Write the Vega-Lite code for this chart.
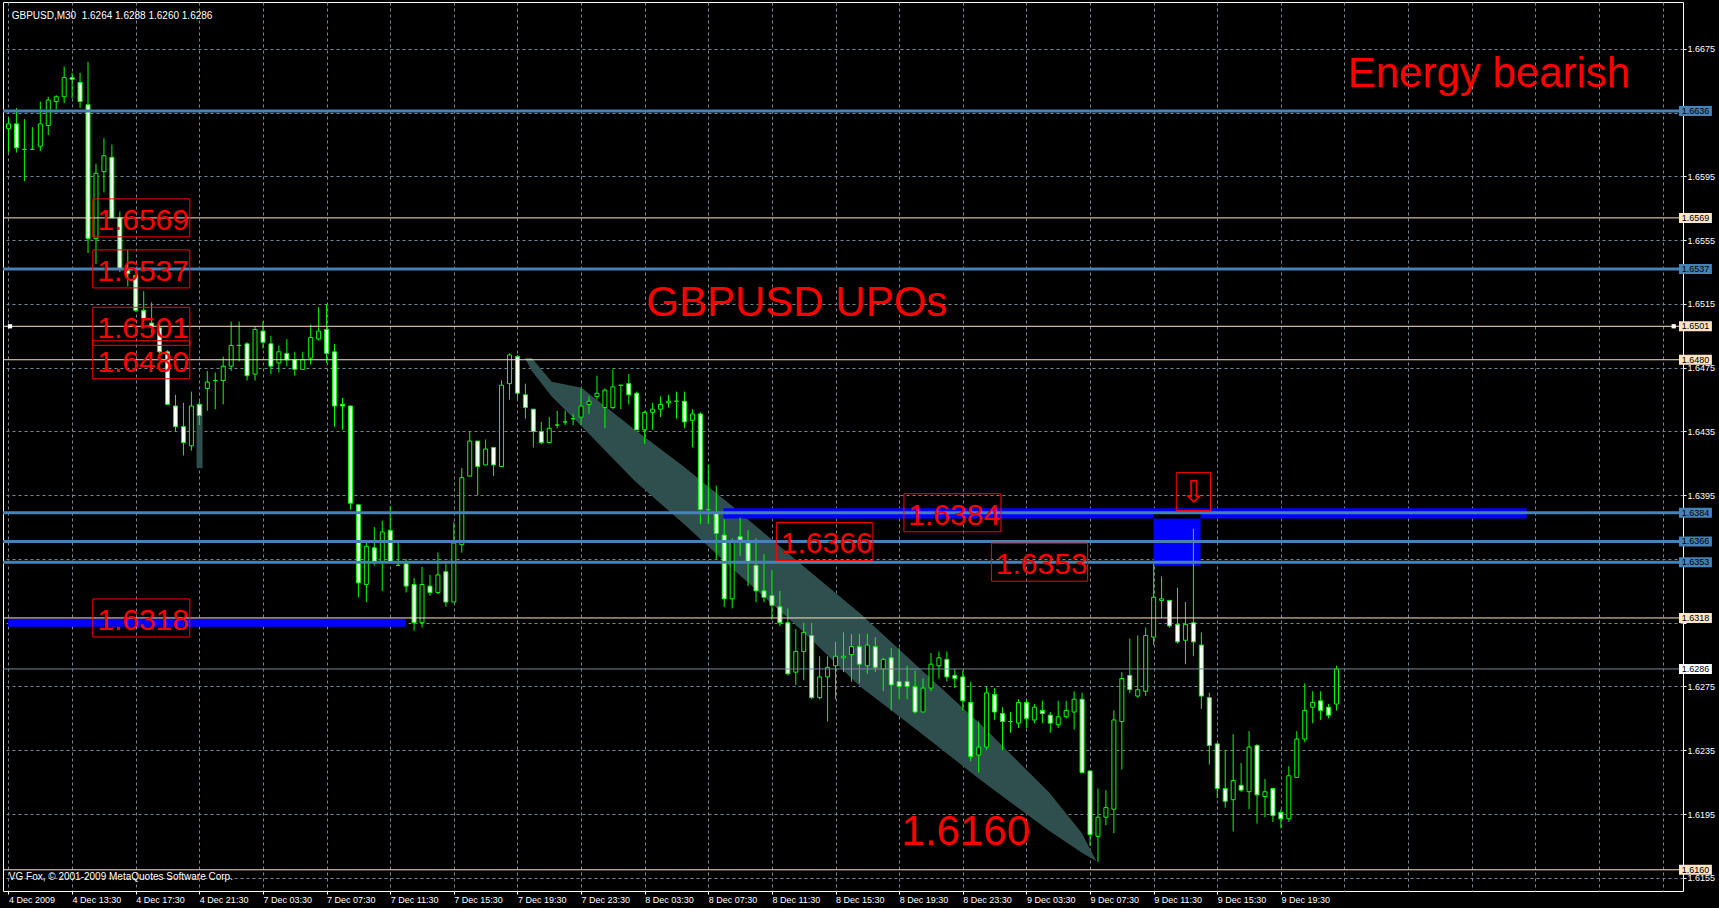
{
  "$schema": "https://vega.github.io/schema/vega-lite/v6.json",
  "width": 1680,
  "height": 889,
  "autosize": {"type": "none"},
  "padding": {"left": 3, "top": 2, "right": 36, "bottom": 17},
  "background": "#000000",
  "config": {"view": {"stroke": "#FFFFFF", "strokeWidth": 1}, "font": "Liberation Sans"},
  "datasets": {
    "candles": [
      {"i":0,"o":1.6625,"h":1.6632,"l":1.6610,"c":1.6628},
      {"i":1,"o":1.6628,"h":1.6638,"l":1.6610,"c":1.6613},
      {"i":2,"o":1.6612,"h":1.6631,"l":1.6592,"c":1.6612},
      {"i":3,"o":1.6612,"h":1.6626,"l":1.6612,"c":1.6612},
      {"i":4,"o":1.6614,"h":1.6642,"l":1.6611,"c":1.6628},
      {"i":5,"o":1.6627,"h":1.6645,"l":1.6621,"c":1.6643},
      {"i":6,"o":1.6642,"h":1.6646,"l":1.6637,"c":1.6645},
      {"i":7,"o":1.6645,"h":1.6664,"l":1.6641,"c":1.6657},
      {"i":8,"o":1.6657,"h":1.6660,"l":1.6644,"c":1.6656},
      {"i":9,"o":1.6654,"h":1.6660,"l":1.6638,"c":1.6642},
      {"i":10,"o":1.6640,"h":1.6667,"l":1.6547,"c":1.6556},
      {"i":11,"o":1.6556,"h":1.6603,"l":1.6540,"c":1.6597},
      {"i":12,"o":1.6598,"h":1.6619,"l":1.6585,"c":1.6608},
      {"i":13,"o":1.6607,"h":1.6615,"l":1.6569,"c":1.6569},
      {"i":14,"o":1.6569,"h":1.6573,"l":1.6535,"c":1.6537},
      {"i":15,"o":1.6536,"h":1.6549,"l":1.6526,"c":1.6534},
      {"i":16,"o":1.6533,"h":1.6534,"l":1.6510,"c":1.6511},
      {"i":17,"o":1.6511,"h":1.6523,"l":1.6504,"c":1.6506},
      {"i":18,"o":1.6503,"h":1.6516,"l":1.6496,"c":1.6501},
      {"i":19,"o":1.6500,"h":1.6502,"l":1.6481,"c":1.6485},
      {"i":20,"o":1.6485,"h":1.6486,"l":1.6452,"c":1.6452},
      {"i":21,"o":1.6451,"h":1.6458,"l":1.6435,"c":1.6438},
      {"i":22,"o":1.6438,"h":1.6453,"l":1.6420,"c":1.6428},
      {"i":23,"o":1.6426,"h":1.6460,"l":1.6423,"c":1.6451},
      {"i":24,"o":1.6452,"h":1.6454,"l":1.6439,"c":1.6445},
      {"i":25,"o":1.6462,"h":1.6473,"l":1.6448,"c":1.6466},
      {"i":26,"o":1.6467,"h":1.6472,"l":1.6449,"c":1.6467},
      {"i":27,"o":1.6467,"h":1.6482,"l":1.6452,"c":1.6476},
      {"i":28,"o":1.6476,"h":1.6504,"l":1.6473,"c":1.6489},
      {"i":29,"o":1.6489,"h":1.6504,"l":1.6479,"c":1.6489},
      {"i":30,"o":1.6490,"h":1.6491,"l":1.6467,"c":1.6470},
      {"i":31,"o":1.6471,"h":1.6501,"l":1.6467,"c":1.6499},
      {"i":32,"o":1.6498,"h":1.6504,"l":1.6487,"c":1.6491},
      {"i":33,"o":1.6490,"h":1.6495,"l":1.6471,"c":1.6476},
      {"i":34,"o":1.6478,"h":1.6489,"l":1.6472,"c":1.6485},
      {"i":35,"o":1.6484,"h":1.6493,"l":1.6476,"c":1.6480},
      {"i":36,"o":1.6480,"h":1.6485,"l":1.6470,"c":1.6474},
      {"i":37,"o":1.6474,"h":1.6485,"l":1.6474,"c":1.6480},
      {"i":38,"o":1.6481,"h":1.6502,"l":1.6477,"c":1.6494},
      {"i":39,"o":1.6493,"h":1.6513,"l":1.6492,"c":1.6498},
      {"i":40,"o":1.6499,"h":1.6515,"l":1.6478,"c":1.6484},
      {"i":41,"o":1.6485,"h":1.6490,"l":1.6438,"c":1.6451},
      {"i":42,"o":1.6452,"h":1.6456,"l":1.6436,"c":1.6451},
      {"i":43,"o":1.6451,"h":1.6451,"l":1.6386,"c":1.6390},
      {"i":44,"o":1.6389,"h":1.6389,"l":1.6331,"c":1.6340},
      {"i":45,"o":1.6339,"h":1.6365,"l":1.6328,"c":1.6363},
      {"i":46,"o":1.6362,"h":1.6375,"l":1.6351,"c":1.6353},
      {"i":47,"o":1.6353,"h":1.6379,"l":1.6335,"c":1.6372},
      {"i":48,"o":1.6373,"h":1.6388,"l":1.6353,"c":1.6353},
      {"i":49,"o":1.6351,"h":1.6365,"l":1.6351,"c":1.6351},
      {"i":50,"o":1.6352,"h":1.6355,"l":1.6334,"c":1.6338},
      {"i":51,"o":1.6339,"h":1.6343,"l":1.6310,"c":1.6315},
      {"i":52,"o":1.6315,"h":1.6350,"l":1.6312,"c":1.6339},
      {"i":53,"o":1.6338,"h":1.6345,"l":1.6332,"c":1.6334},
      {"i":54,"o":1.6334,"h":1.6359,"l":1.6333,"c":1.6345},
      {"i":55,"o":1.6347,"h":1.6353,"l":1.6325,"c":1.6328},
      {"i":56,"o":1.6328,"h":1.6378,"l":1.6328,"c":1.6365},
      {"i":57,"o":1.6364,"h":1.6412,"l":1.6359,"c":1.6406},
      {"i":58,"o":1.6407,"h":1.6435,"l":1.6407,"c":1.6429},
      {"i":59,"o":1.6429,"h":1.6429,"l":1.6395,"c":1.6413},
      {"i":60,"o":1.6414,"h":1.6430,"l":1.6414,"c":1.6424},
      {"i":61,"o":1.6425,"h":1.6425,"l":1.6407,"c":1.6414},
      {"i":62,"o":1.6413,"h":1.6467,"l":1.6413,"c":1.6464},
      {"i":63,"o":1.6465,"h":1.6484,"l":1.6455,"c":1.6483},
      {"i":64,"o":1.6482,"h":1.6483,"l":1.6455,"c":1.6459},
      {"i":65,"o":1.6458,"h":1.6465,"l":1.6443,"c":1.6450},
      {"i":66,"o":1.6449,"h":1.6449,"l":1.6425,"c":1.6435},
      {"i":67,"o":1.6435,"h":1.6441,"l":1.6427,"c":1.6428},
      {"i":68,"o":1.6428,"h":1.6444,"l":1.6428,"c":1.6437},
      {"i":69,"o":1.6439,"h":1.6448,"l":1.6437,"c":1.6439},
      {"i":70,"o":1.6441,"h":1.6448,"l":1.6439,"c":1.6441},
      {"i":71,"o":1.6443,"h":1.6446,"l":1.6439,"c":1.6443},
      {"i":72,"o":1.6444,"h":1.6462,"l":1.6439,"c":1.6451},
      {"i":73,"o":1.6452,"h":1.6457,"l":1.6446,"c":1.6454},
      {"i":74,"o":1.6457,"h":1.6470,"l":1.6455,"c":1.6459},
      {"i":75,"o":1.6450,"h":1.6462,"l":1.6437,"c":1.6461},
      {"i":76,"o":1.6450,"h":1.6474,"l":1.6449,"c":1.6463},
      {"i":77,"o":1.6464,"h":1.6464,"l":1.6449,"c":1.6464},
      {"i":78,"o":1.6465,"h":1.6471,"l":1.6452,"c":1.6458},
      {"i":79,"o":1.6459,"h":1.6460,"l":1.6436,"c":1.6436},
      {"i":80,"o":1.6436,"h":1.6448,"l":1.6427,"c":1.6447},
      {"i":81,"o":1.6447,"h":1.6453,"l":1.6436,"c":1.6449},
      {"i":82,"o":1.6449,"h":1.6457,"l":1.6444,"c":1.6452},
      {"i":83,"o":1.6453,"h":1.6458,"l":1.6450,"c":1.6454},
      {"i":84,"o":1.6454,"h":1.6460,"l":1.6443,"c":1.6454},
      {"i":85,"o":1.6454,"h":1.6460,"l":1.6437,"c":1.6441},
      {"i":86,"o":1.6442,"h":1.6449,"l":1.6425,"c":1.6446},
      {"i":87,"o":1.6446,"h":1.6447,"l":1.6377,"c":1.6386},
      {"i":88,"o":1.6386,"h":1.6414,"l":1.6377,"c":1.6386},
      {"i":89,"o":1.6384,"h":1.6401,"l":1.6355,"c":1.6371},
      {"i":90,"o":1.6370,"h":1.6380,"l":1.6325,"c":1.6330},
      {"i":91,"o":1.6330,"h":1.6368,"l":1.6324,"c":1.6366},
      {"i":92,"o":1.6369,"h":1.6381,"l":1.6357,"c":1.6367},
      {"i":93,"o":1.6365,"h":1.6373,"l":1.6338,"c":1.6353},
      {"i":94,"o":1.6351,"h":1.6368,"l":1.6328,"c":1.6335},
      {"i":95,"o":1.6335,"h":1.6358,"l":1.6328,"c":1.6331},
      {"i":96,"o":1.6332,"h":1.6348,"l":1.6317,"c":1.6326},
      {"i":97,"o":1.6325,"h":1.6335,"l":1.6313,"c":1.6315},
      {"i":98,"o":1.6315,"h":1.6324,"l":1.6282,"c":1.6283},
      {"i":99,"o":1.6284,"h":1.6311,"l":1.6276,"c":1.6297},
      {"i":100,"o":1.6297,"h":1.6315,"l":1.6279,"c":1.6309},
      {"i":101,"o":1.6307,"h":1.6315,"l":1.6267,"c":1.6268},
      {"i":102,"o":1.6268,"h":1.6294,"l":1.6267,"c":1.6281},
      {"i":103,"o":1.6281,"h":1.6294,"l":1.6253,"c":1.6287},
      {"i":104,"o":1.6288,"h":1.6303,"l":1.6267,"c":1.6294},
      {"i":105,"o":1.6293,"h":1.6309,"l":1.6284,"c":1.6294},
      {"i":106,"o":1.6295,"h":1.6308,"l":1.6278,"c":1.6300},
      {"i":107,"o":1.6300,"h":1.6308,"l":1.6277,"c":1.6289},
      {"i":108,"o":1.6288,"h":1.6308,"l":1.6283,"c":1.6301},
      {"i":109,"o":1.6300,"h":1.6306,"l":1.6284,"c":1.6287},
      {"i":110,"o":1.6286,"h":1.6293,"l":1.6272,"c":1.6292},
      {"i":111,"o":1.6293,"h":1.6299,"l":1.6260,"c":1.6276},
      {"i":112,"o":1.6278,"h":1.6299,"l":1.6267,"c":1.6275},
      {"i":113,"o":1.6278,"h":1.6288,"l":1.6267,"c":1.6275},
      {"i":114,"o":1.6275,"h":1.6285,"l":1.6258,"c":1.6259},
      {"i":115,"o":1.6259,"h":1.6280,"l":1.6259,"c":1.6274},
      {"i":116,"o":1.6274,"h":1.6296,"l":1.6272,"c":1.6289},
      {"i":117,"o":1.6288,"h":1.6297,"l":1.6280,"c":1.6293},
      {"i":118,"o":1.6292,"h":1.6297,"l":1.6278,"c":1.6281},
      {"i":119,"o":1.6282,"h":1.6286,"l":1.6274,"c":1.6280},
      {"i":120,"o":1.6281,"h":1.6285,"l":1.6260,"c":1.6266},
      {"i":121,"o":1.6265,"h":1.6278,"l":1.6228,"c":1.6231},
      {"i":122,"o":1.6232,"h":1.6253,"l":1.6221,"c":1.6237},
      {"i":123,"o":1.6237,"h":1.6275,"l":1.6235,"c":1.6271},
      {"i":124,"o":1.6270,"h":1.6274,"l":1.6254,"c":1.6259},
      {"i":125,"o":1.6258,"h":1.6262,"l":1.6235,"c":1.6253},
      {"i":126,"o":1.6253,"h":1.6259,"l":1.6246,"c":1.6253},
      {"i":127,"o":1.6252,"h":1.6267,"l":1.6249,"c":1.6265},
      {"i":128,"o":1.6265,"h":1.6267,"l":1.6249,"c":1.6255},
      {"i":129,"o":1.6254,"h":1.6264,"l":1.6252,"c":1.6262},
      {"i":130,"o":1.6260,"h":1.6266,"l":1.6252,"c":1.6258},
      {"i":131,"o":1.6257,"h":1.6259,"l":1.6246,"c":1.6252},
      {"i":132,"o":1.6251,"h":1.6266,"l":1.6249,"c":1.6256},
      {"i":133,"o":1.6256,"h":1.6266,"l":1.6255,"c":1.6260},
      {"i":134,"o":1.6259,"h":1.6272,"l":1.6248,"c":1.6267},
      {"i":135,"o":1.6267,"h":1.6271,"l":1.6221,"c":1.6221},
      {"i":136,"o":1.6222,"h":1.6222,"l":1.6175,"c":1.6182},
      {"i":137,"o":1.6181,"h":1.6211,"l":1.6165,"c":1.6193},
      {"i":138,"o":1.6193,"h":1.6210,"l":1.6188,"c":1.6199},
      {"i":139,"o":1.6198,"h":1.6260,"l":1.6183,"c":1.6254},
      {"i":140,"o":1.6253,"h":1.6284,"l":1.6223,"c":1.6280},
      {"i":141,"o":1.6282,"h":1.6305,"l":1.6271,"c":1.6273},
      {"i":142,"o":1.6269,"h":1.6307,"l":1.6268,"c":1.6273},
      {"i":143,"o":1.6272,"h":1.6312,"l":1.6269,"c":1.6307},
      {"i":144,"o":1.6306,"h":1.6352,"l":1.6301,"c":1.6331},
      {"i":145,"o":1.6329,"h":1.6344,"l":1.6318,"c":1.6330},
      {"i":146,"o":1.6329,"h":1.6329,"l":1.6312,"c":1.6313},
      {"i":147,"o":1.6314,"h":1.6337,"l":1.6302,"c":1.6303},
      {"i":148,"o":1.6304,"h":1.6328,"l":1.6289,"c":1.6314},
      {"i":149,"o":1.6315,"h":1.6374,"l":1.6294,"c":1.6303},
      {"i":150,"o":1.6301,"h":1.6309,"l":1.6261,"c":1.6269},
      {"i":151,"o":1.6268,"h":1.6271,"l":1.6226,"c":1.6238},
      {"i":152,"o":1.6239,"h":1.6239,"l":1.6205,"c":1.6211},
      {"i":153,"o":1.6211,"h":1.6235,"l":1.6199,"c":1.6203},
      {"i":154,"o":1.6204,"h":1.6245,"l":1.6184,"c":1.6216},
      {"i":155,"o":1.6213,"h":1.6227,"l":1.6209,"c":1.6210},
      {"i":156,"o":1.6209,"h":1.6247,"l":1.6198,"c":1.6237},
      {"i":157,"o":1.6238,"h":1.6239,"l":1.6189,"c":1.6207},
      {"i":158,"o":1.6206,"h":1.6217,"l":1.6193,"c":1.6209},
      {"i":159,"o":1.6211,"h":1.6211,"l":1.6190,"c":1.6194},
      {"i":160,"o":1.6196,"h":1.6198,"l":1.6186,"c":1.6192},
      {"i":161,"o":1.6192,"h":1.6225,"l":1.6190,"c":1.6219},
      {"i":162,"o":1.6218,"h":1.6247,"l":1.6218,"c":1.6242},
      {"i":163,"o":1.6242,"h":1.6277,"l":1.6240,"c":1.6260},
      {"i":164,"o":1.6262,"h":1.6272,"l":1.6252,"c":1.6265},
      {"i":165,"o":1.6266,"h":1.6272,"l":1.6254,"c":1.6260},
      {"i":166,"o":1.6262,"h":1.6264,"l":1.6255,"c":1.6257},
      {"i":167,"o":1.6264,"h":1.6288,"l":1.6260,"c":1.6286}
    ],
    "band": [
      {"bx":64.94,"up":1.64811,"lo":1.64811},
      {"bx":65.81,"up":1.64811,"lo":1.6473},
      {"bx":68.31,"up":1.64662,"lo":1.64569},
      {"bx":72.06,"up":1.64625,"lo":1.64383},
      {"bx":78.69,"up":1.64364,"lo":1.64042},
      {"bx":84.94,"up":1.64129,"lo":1.63769},
      {"bx":91.19,"up":1.63874,"lo":1.63483},
      {"bx":99.56,"up":1.63521,"lo":1.63111},
      {"bx":107.06,"up":1.6321,"lo":1.62751},
      {"bx":114.19,"up":1.62882,"lo":1.62478},
      {"bx":122.44,"up":1.62503,"lo":1.62156},
      {"bx":130.81,"up":1.62088,"lo":1.61846},
      {"bx":134.94,"up":1.61833,"lo":1.61709},
      {"bx":136.81,"up":1.61653,"lo":1.61653}
    ],
    "zones": [
      {"x1":-0.0625,"x2":49.94,"p1":1.63175,"p2":1.63125,"kind":"blue"},
      {"x1":89.9,"x2":190.9,"p1":1.63868,"p2":1.63804,"kind":"blue"},
      {"x1":144.0,"x2":149.9,"p1":1.63804,"p2":1.63506,"kind":"blue"},
      {"x1":144.0,"x2":149.9,"p1":1.63842,"p2":1.63804,"kind":"black"},
      {"x1":23.65,"x2":24.4,"p1":1.64523,"p2":1.6412,"kind":"teal"}
    ],
    "levels": [
      {"p":1.6636,"kind":"steel"},
      {"p":1.6569,"kind":"bisque"},
      {"p":1.6537,"kind":"steel"},
      {"p":1.6501,"kind":"bisque"},
      {"p":1.6480,"kind":"bisque"},
      {"p":1.6384,"kind":"steel"},
      {"p":1.6366,"kind":"steel"},
      {"p":1.6353,"kind":"steel"},
      {"p":1.6318,"kind":"bisque"},
      {"p":1.6286,"kind":"gray"},
      {"p":1.6160,"kind":"bisque"}
    ],
    "handles": [
      {"x":0.19,"p":1.6501},
      {"x":209.4,"p":1.6501}
    ],
    "boxes": [
      {"t":"1.6569","x1":10.6,"x2":22.8,"p":1.6569},
      {"t":"1.6537","x1":10.6,"x2":22.8,"p":1.6537},
      {"t":"1.6501","x1":10.6,"x2":22.8,"p":1.6501},
      {"t":"1.6480","x1":10.6,"x2":22.8,"p":1.6480},
      {"t":"1.6318","x1":10.6,"x2":22.8,"p":1.6318},
      {"t":"1.6366","x1":96.56,"x2":108.7,"p":1.6366},
      {"t":"1.6384","x1":112.6,"x2":124.8,"p":1.6384},
      {"t":"1.6353","x1":123.6,"x2":135.7,"p":1.6353},
      {"t":"⇩","x1":146.85,"x2":151.15,"p":1.63973}
    ],
    "notes": [
      {"t":"Energy bearish","x":168.4,"p":1.66509},
      {"t":"GBPUSD UPOs","x":80.2,"p":1.65072},
      {"t":"1.6160","x":112.3,"p":1.61753}
    ],
    "info": [
      {"t":"GBPUSD,M30\u00a0 1.6264 1.6288 1.6260 1.6286","x":0.4,"p":1.66939},
      {"t":"VG Fox, © 2001-2009 MetaQuotes Software Corp.","x":0.04,"p":1.61536}
    ]
  },
  "layer": [
    {
      "data": {"name": "band"},
      "mark": {"type": "area", "color": "#2F4F4F", "opacity": 1},
      "encoding": {
        "x": {
          "field": "bx", "type": "quantitative",
          "scale": {"domain": [-0.0625, 209.9375], "nice": false, "zero": false},
          "axis": {
            "orient": "bottom",
            "values": [0,4,8,12,16,20,24,28,32,36,40,44,48,52,56,60,64,68,72,76,80,84,88,92,96,100,104,108,112,116,120,124,128,132,136,140,144,148,152,156,160,164,168,172,176,180,184,188,192,196,200,204,208],
            "grid": true, "gridColor": "#778899", "gridDash": [3, 3], "gridWidth": 1,
            "domain": false,
            "ticks": true,
            "tickSize": 3,
            "tickColor": {"condition": {"test": "datum.value % 8 === 0 && datum.value <= 160", "value": "#FFFFFF"}, "value": "transparent"},
            "labelExpr": "(datum.value % 8 === 0 && datum.value <= 160) ? ['4 Dec 2009','4 Dec 13:30','4 Dec 17:30','4 Dec 21:30','7 Dec 03:30','7 Dec 07:30','7 Dec 11:30','7 Dec 15:30','7 Dec 19:30','7 Dec 23:30','8 Dec 03:30','8 Dec 07:30','8 Dec 11:30','8 Dec 15:30','8 Dec 19:30','8 Dec 23:30','9 Dec 03:30','9 Dec 07:30','9 Dec 11:30','9 Dec 15:30','9 Dec 19:30'][datum.value / 8] : ''",
            "labelAlign": "left", "labelColor": "#FFFFFF", "labelFont": "Liberation Sans", "labelFontSize": 9,
            "labelPadding": 1, "labelOverlap": false, "labelFlush": false, "labelBound": false,
            "title": null, "zindex": 0
          }
        },
        "y": {
          "field": "up", "type": "quantitative",
          "scale": {"domain": [1.614983, 1.670132], "nice": false, "zero": false},
          "axis": {
            "orient": "right",
            "values": [1.6155,1.6175,1.6195,1.6215,1.6235,1.6255,1.6275,1.6295,1.6315,1.6335,1.6355,1.6375,1.6395,1.6415,1.6435,1.6455,1.6475,1.6495,1.6515,1.6535,1.6555,1.6575,1.6595,1.6615,1.6635,1.6655,1.6675,1.6695],
            "format": ".4f",
            "labelExpr": "indexof(['1.6635','1.6535','1.6355','1.6315'], datum.label) >= 0 ? '' : datum.label",
            "grid": true, "gridColor": "#778899", "gridDash": [3, 3], "gridWidth": 1,
            "domain": false, "ticks": true, "tickColor": "#FFFFFF", "tickSize": 3,
            "labelColor": "#FFFFFF", "labelFont": "Liberation Sans", "labelFontSize": 9, "labelPadding": 1,
            "labelOverlap": false, "labelFlush": false, "labelBound": false,
            "title": null, "zindex": 0
          }
        },
        "y2": {"field": "lo"}
      }
    },
    {
      "data": {"name": "zones"},
      "mark": {"type": "rect"},
      "encoding": {
        "x": {"field": "x1", "type": "quantitative", "scale": {"domain": [-0.0625, 209.9375], "nice": false, "zero": false}},
        "x2": {"field": "x2"},
        "y": {"field": "p1", "type": "quantitative", "scale": {"domain": [1.614983, 1.670132], "nice": false, "zero": false}},
        "y2": {"field": "p2"},
        "color": {"condition": [{"test": "datum.kind === 'blue'", "value": "#0000FF"}, {"test": "datum.kind === 'black'", "value": "#000000"}], "value": "#2F4F4F"}
      }
    },
    {
      "data": {"name": "candles"},
      "mark": {"type": "rule", "color": "#00FF00", "strokeWidth": 1},
      "encoding": {
        "x": {"field": "i", "type": "quantitative", "scale": {"domain": [-0.0625, 209.9375], "nice": false, "zero": false}},
        "y": {"field": "h", "type": "quantitative", "scale": {"domain": [1.614983, 1.670132], "nice": false, "zero": false}},
        "y2": {"field": "l"}
      }
    },
    {
      "data": {"name": "candles"},
      "mark": {"type": "bar", "width": 4, "stroke": "#00FF00", "strokeWidth": 1},
      "encoding": {
        "x": {"field": "i", "type": "quantitative", "scale": {"domain": [-0.0625, 209.9375], "nice": false, "zero": false}},
        "y": {"field": "o", "type": "quantitative", "scale": {"domain": [1.614983, 1.670132], "nice": false, "zero": false}},
        "y2": {"field": "c"},
        "fill": {"condition": {"test": "datum.c > datum.o", "value": "#000000"}, "value": "#FFFFFF"}
      }
    },
    {
      "data": {"name": "levels"},
      "mark": {"type": "rule"},
      "encoding": {
        "y": {"field": "p", "type": "quantitative", "scale": {"domain": [1.614983, 1.670132], "nice": false, "zero": false}},
        "color": {"condition": [{"test": "datum.kind === 'steel'", "value": "#4682B4"}, {"test": "datum.kind === 'bisque'", "value": "#FFE4C4"}], "value": "#778899"},
        "strokeWidth": {"condition": {"test": "datum.kind === 'steel'", "value": 3}, "value": 1}
      }
    },
    {
      "data": {"name": "handles"},
      "mark": {"type": "square", "color": "#FFFFFF", "filled": true, "size": 18, "opacity": 1},
      "encoding": {
        "x": {"field": "x", "type": "quantitative", "scale": {"domain": [-0.0625, 209.9375], "nice": false, "zero": false}},
        "y": {"field": "p", "type": "quantitative", "scale": {"domain": [1.614983, 1.670132], "nice": false, "zero": false}}
      }
    },
    {
      "data": {"name": "boxes"},
      "mark": {"type": "bar", "orient": "horizontal", "height": 38, "fillOpacity": 0, "stroke": "#FF0000", "strokeWidth": 1},
      "encoding": {
        "x": {"field": "x1", "type": "quantitative", "scale": {"domain": [-0.0625, 209.9375], "nice": false, "zero": false}},
        "x2": {"field": "x2"},
        "y": {"field": "p", "type": "quantitative", "scale": {"domain": [1.614983, 1.670132], "nice": false, "zero": false}}
      }
    },
    {
      "data": {"name": "boxes"},
      "transform": [{"filter": "datum.t !== '⇩'"}],
      "mark": {"type": "text", "align": "left", "baseline": "alphabetic", "dx": 4.4, "dy": 12, "font": "Liberation Sans", "fontSize": 30, "fill": "#FF0000"},
      "encoding": {
        "x": {"field": "x1", "type": "quantitative", "scale": {"domain": [-0.0625, 209.9375], "nice": false, "zero": false}},
        "y": {"field": "p", "type": "quantitative", "scale": {"domain": [1.614983, 1.670132], "nice": false, "zero": false}},
        "text": {"field": "t"}
      }
    },
    {
      "data": {"name": "boxes"},
      "transform": [{"filter": "datum.t === '⇩'"}],
      "mark": {"type": "text", "align": "center", "baseline": "middle", "dx": 17.2, "dy": 1, "font": "DejaVu Sans", "fontSize": 30, "fill": "#FF0000"},
      "encoding": {
        "x": {"field": "x1", "type": "quantitative", "scale": {"domain": [-0.0625, 209.9375], "nice": false, "zero": false}},
        "y": {"field": "p", "type": "quantitative", "scale": {"domain": [1.614983, 1.670132], "nice": false, "zero": false}},
        "text": {"field": "t"}
      }
    },
    {
      "data": {"name": "notes"},
      "mark": {"type": "text", "align": "left", "baseline": "alphabetic", "font": "Liberation Sans", "fontSize": 42, "fill": "#FF0000"},
      "encoding": {
        "x": {"field": "x", "type": "quantitative", "scale": {"domain": [-0.0625, 209.9375], "nice": false, "zero": false}},
        "y": {"field": "p", "type": "quantitative", "scale": {"domain": [1.614983, 1.670132], "nice": false, "zero": false}},
        "text": {"field": "t"}
      }
    },
    {
      "data": {"name": "info"},
      "mark": {"type": "text", "align": "left", "baseline": "alphabetic", "font": "Liberation Sans", "fontSize": 10, "fill": "#FFFFFF"},
      "encoding": {
        "x": {"field": "x", "type": "quantitative", "scale": {"domain": [-0.0625, 209.9375], "nice": false, "zero": false}},
        "y": {"field": "p", "type": "quantitative", "scale": {"domain": [1.614983, 1.670132], "nice": false, "zero": false}},
        "text": {"field": "t"}
      }
    },
    {
      "data": {"name": "levels"},
      "mark": {"type": "bar", "orient": "horizontal", "height": 10},
      "encoding": {
        "x": {"datum": 210.06, "type": "quantitative", "scale": {"domain": [-0.0625, 209.9375], "nice": false, "zero": false}},
        "x2": {"datum": 214.2},
        "y": {"field": "p", "type": "quantitative", "scale": {"domain": [1.614983, 1.670132], "nice": false, "zero": false}},
        "fill": {"condition": [{"test": "datum.kind === 'steel'", "value": "#4682B4"}, {"test": "datum.kind === 'bisque'", "value": "#FFE4C4"}], "value": "#FFFFFF"}
      }
    },
    {
      "data": {"name": "levels"},
      "mark": {"type": "text", "align": "center", "baseline": "middle", "font": "Liberation Sans", "fontSize": 9, "fill": "#000000"},
      "encoding": {
        "x": {"datum": 212.13, "type": "quantitative", "scale": {"domain": [-0.0625, 209.9375], "nice": false, "zero": false}},
        "y": {"field": "p", "type": "quantitative", "scale": {"domain": [1.614983, 1.670132], "nice": false, "zero": false}},
        "text": {"field": "p", "type": "quantitative", "format": ".4f"}
      }
    }
  ]
}
